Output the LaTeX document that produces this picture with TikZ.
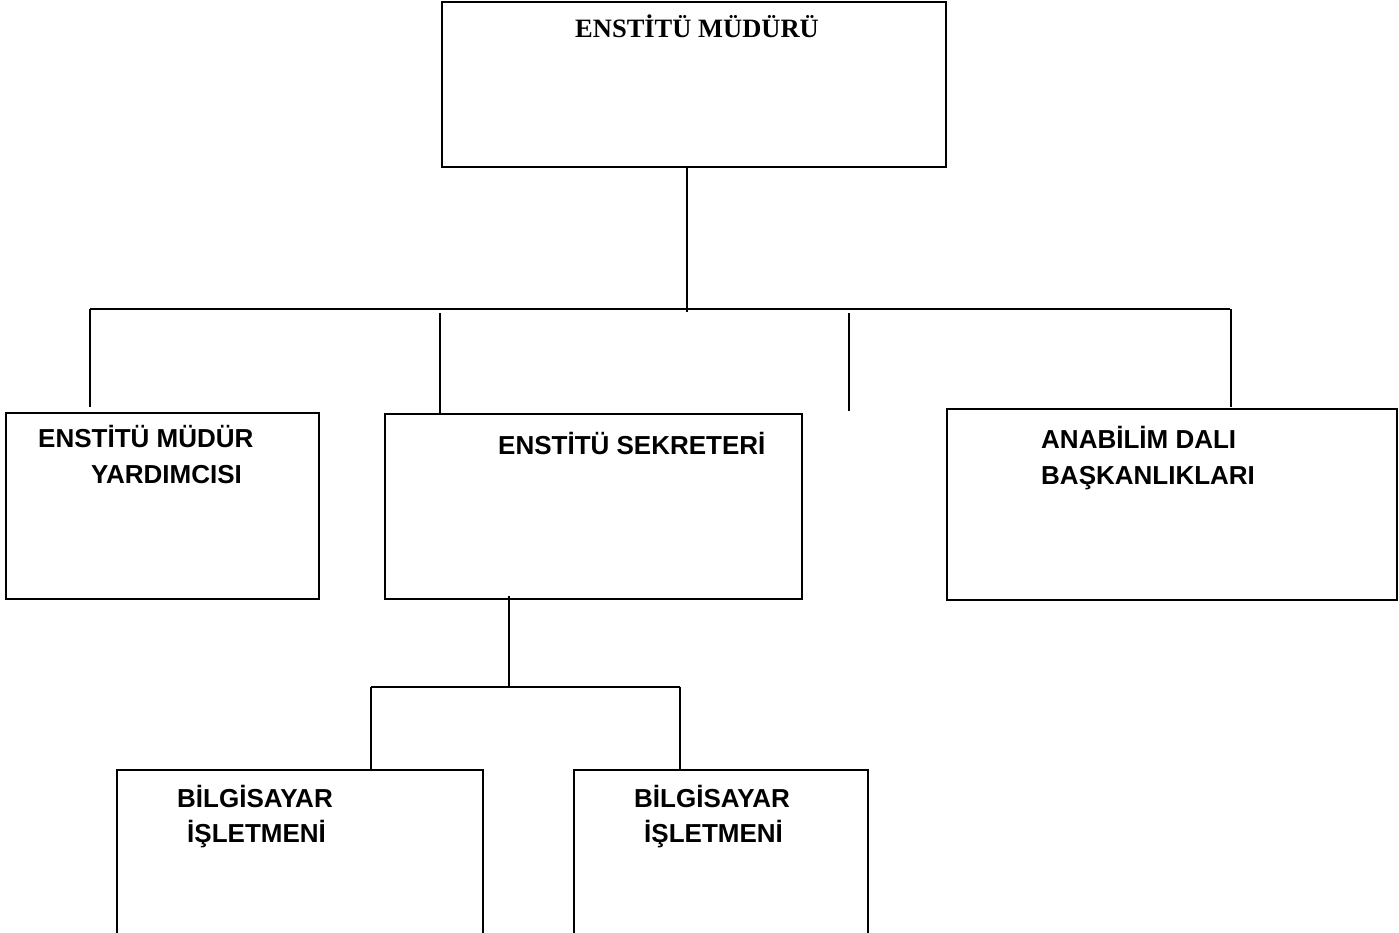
\documentclass[tikz,border=0pt]{standalone}
\usepackage{fontspec}
\setmainfont{Liberation Serif}
\setsansfont{Liberation Sans}
\begin{document}
\begin{tikzpicture}[x=1pt,y=-1pt,
  box/.style={draw,line width=2pt,inner sep=0pt,outer sep=0pt},
  conn/.style={line width=1.8pt},
  lbl/.style={anchor=base west,inner sep=0pt,font=\sffamily\bfseries\fontsize{26}{30}\selectfont},
  toplbl/.style={anchor=base west,inner sep=0pt,font=\rmfamily\bfseries\fontsize{26.5}{30}\selectfont}]
\useasboundingbox (0,0) rectangle (1399,933);
% boxes
\node[box,minimum width=504pt,minimum height=165pt] (dir) at (694,84.5) {};
\node[box,minimum width=313pt,minimum height=186pt] (myard) at (162.5,506) {};
\node[box,minimum width=417pt,minimum height=185pt] (sek) at (593.5,506.5) {};
\node[box,minimum width=450pt,minimum height=191pt] (abd) at (1172,504.5) {};
\node[box,minimum width=366pt,minimum height=175pt] (bil1) at (300,857.5) {};
\node[box,minimum width=294pt,minimum height=175pt] (bil2) at (721,857.5) {};
% labels
\node[toplbl] (tdir) at (575,38) {ENSTİTÜ MÜDÜRÜ};
\node[lbl] (tm1) at (38,447) {ENSTİTÜ MÜDÜR};
\node[lbl] (tm2) at (91,483) {YARDIMCISI};
\node[lbl] (tsek) at (498,454) {ENSTİTÜ SEKRETERİ};
\node[lbl] (ta1) at (1041,448) {ANABİLİM DALI};
\node[lbl] (ta2) at (1041,484) {BAŞKANLIKLARI};
\node[lbl] (tb11) at (177,807) {BİLGİSAYAR};
\node[lbl] (tb12) at (187,842) {İŞLETMENİ};
\node[lbl] (tb21) at (634,807) {BİLGİSAYAR};
\node[lbl] (tb22) at (644,842) {İŞLETMENİ};
% connector coordinates
\coordinate (j1) at (687,312);
\coordinate (busL) at (90,309);
\coordinate (busR) at (1230,309);
\coordinate (e1) at (90,407);
\coordinate (s2) at (440,313);
\coordinate (s3) at (849,313);
\coordinate (e3) at (849,411);
\coordinate (e4) at (1231,407);
\coordinate (s4) at (1231,309);
\coordinate (k1) at (509,596);
\coordinate (k2) at (509,687);
\coordinate (kL) at (371,687);
\coordinate (kR) at (680,687);
% connectors
\draw[conn] (dir.south -| j1) -- (j1);
\draw[conn] (busL) -- (busR);
\draw[conn] (busL) -- (e1);
\draw[conn] (s2) -- (sek.north -| s2);
\draw[conn] (s3) -- (e3);
\draw[conn] (s4) -- (e4);
\draw[conn] (k1) -- (k2);
\draw[conn] (kL) -- (kR);
\draw[conn] (kL) -- (bil1.north -| kL);
\draw[conn] (kR) -- (bil2.north -| kR);
\end{tikzpicture}
\end{document}
